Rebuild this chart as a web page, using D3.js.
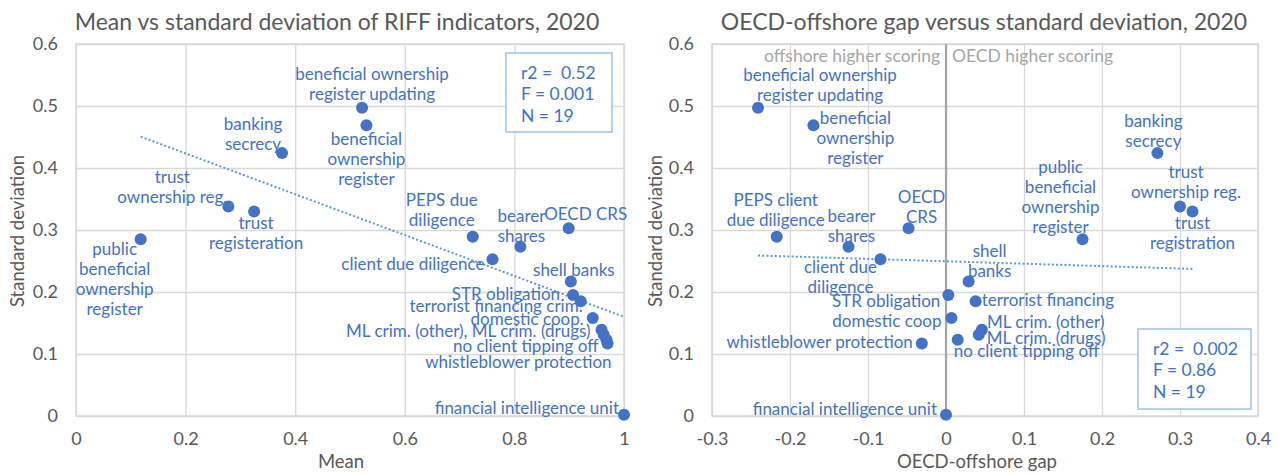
<!DOCTYPE html>
<html>
<head>
<meta charset="utf-8">
<script src="https://cdn.jsdelivr.net/npm/d3@7"></script>
<style>
  html, body { margin: 0; padding: 0; background: #fff; }
  svg { display: block; font-family: Lato, "Open Sans", sans-serif; }
  text { white-space: pre; }
</style>
</head>
<body>
<svg id="chart" width="1279" height="475"></svg>
<script>
// ---------- DATA ----------
const indicators = [
  "public beneficial ownership register", "trust ownership reg.", "trust registration",
  "banking secrecy", "beneficial ownership register updating", "beneficial ownership register",
  "PEPS due diligence", "bearer shares", "OECD CRS", "client due diligence", "shell banks",
  "STR obligation", "terrorist financing", "domestic coop", "ML crim. (other)", "ML crim. (drugs)",
  "no client tipping off", "whistleblower protection", "financial intelligence unit"
];
const means = [0.118, 0.278, 0.325, 0.376, 0.522, 0.530, 0.724, 0.811, 0.899, 0.760, 0.903,
               0.907, 0.921, 0.943, 0.959, 0.963, 0.968, 0.970, 1.0];
const sds   = [0.285, 0.338, 0.330, 0.424, 0.497, 0.469, 0.289, 0.273, 0.303, 0.253, 0.217,
               0.195, 0.185, 0.158, 0.139, 0.131, 0.123, 0.117, 0.002];
const gaps  = [0.175, 0.300, 0.316, 0.271, -0.241, -0.170, -0.217, -0.125, -0.048, -0.084, 0.029,
               0.003, 0.038, 0.007, 0.046, 0.042, 0.015, -0.031, 0.0];

const leftLabels = [
  "public\nbeneficial\nownership\nregister", "trust\nownership reg.", "trust\nregisteration",
  "banking\nsecrecy", "beneficial ownership\nregister updating", "beneficial\nownership\nregister",
  "PEPS due\ndiligence", "bearer\nshares", "OECD CRS", "client due diligence", "shell banks",
  "STR obligation", "terrorist financing crim.", "domestic coop.", "ML crim. (other), ML crim. (drugs)", null,
  "no client tipping off", "whistleblower protection", "financial intelligence unit"
];
const rightLabels = [
  "public\nbeneficial\nownership\nregister", "trust\nownership reg.", "trust\nregistration",
  "banking\nsecrecy", "beneficial ownership\nregister updating", "beneficial\nownership\nregister",
  "PEPS client\ndue diligence", "bearer\nshares", "OECD\nCRS", "client due\ndiligence", "shell\nbanks",
  "STR obligation", "terrorist financing", "domestic coop", "ML crim. (other)", "ML crim. (drugs)",
  "no client tipping off", "whistleblower protection", "financial intelligence unit"
];

const xTicksLeft  = [0, 0.2, 0.4, 0.6, 0.8, 1];
const xTicksRight = [-0.3, -0.2, -0.1, 0, 0.1, 0.2, 0.3, 0.4];
const yTicks      = [0, 0.1, 0.2, 0.3, 0.4, 0.5, 0.6];

const leftTitle  = "Mean vs standard deviation of RIFF indicators, 2020";
const rightTitle = "OECD-offshore gap versus standard deviation, 2020";
const leftXTitle = "Mean";
const rightXTitle = "OECD-offshore gap";
const yTitle = "Standard deviation";
const leftStats  = ["r2 =  0.52", "F = 0.001", "N = 19"];
const rightStats = ["r2 =  0.002", "F = 0.86", "N = 19"];
const sideLabels = ["offshore higher scoring", "OECD higher scoring"];

// ---------- LAYOUT (label offsets from the dot, px) ----------
const leftLayout = [
  [-26, 9, "middle"], [-56, -30, "middle"], [2, 11, "middle"], [-29, -30, "middle"],
  [10, -35, "middle"], [0, 13, "middle"], [-31, -38, "middle"], [1, -32, "middle"],
  [17, -15, "middle"], [-8, 4, "end"], [3, -12, "middle"], [-13, -2, "end"],
  [2, 4, "end"], [-9, 0, "end"], [-11, 0, "end"], null,
  [-8, 5, "end"], [4, 18, "end"], [-5, -8, "end"]
];
const rightLayout = [
  [-22, -73, "middle"], [6, -35, "middle"], [0, 11, "middle"], [-4, -33, "middle"],
  [62, -34, "middle"], [42, -8, "middle"], [-1, -38, "middle"], [3, -32, "middle"],
  [13, -32, "middle"], [-40, 7, "middle"], [21, -31, "middle"], [-8, 5, "end"],
  [6, -2, "start"], [-10, 2, "end"], [5, -9, "start"], [8, 2, "start"],
  [-4, 10, "start"], [-9, -2, "end"], [-9, -7, "end"]
];

const BLUE = "#4472C4", GREY = "#595959", GRID = "#d9d9d9";
const svg = d3.select("#chart");

function regression(xs, ys) {
  const mx = d3.mean(xs), my = d3.mean(ys);
  let sxy = 0, sxx = 0;
  xs.forEach((x, i) => { sxy += (x - mx) * (ys[i] - my); sxx += (x - mx) ** 2; });
  const b = sxy / sxx;
  return x => my + b * (x - mx);
}

function panel(opt) {
  const x = d3.scaleLinear().domain(opt.xDomain).range([opt.left, opt.right]);
  const y = d3.scaleLinear().domain([0, 0.6]).range([416, 44]);
  const g = svg.append("g");
  const fmt = d => String(+d.toFixed(1));

  // grid
  g.append("g").attr("transform", `translate(0,416)`)
    .call(d3.axisBottom(x).tickValues(opt.xTicks).tickSize(-(416 - 44)).tickFormat(""))
    .call(s => s.select(".domain").remove())
    .call(s => s.selectAll("line").attr("stroke", GRID).attr("stroke-width", 1.3));
  g.append("g").attr("transform", `translate(${opt.left},0)`)
    .call(d3.axisLeft(y).tickValues(yTicks).tickSize(-(opt.right - opt.left)).tickFormat(""))
    .call(s => s.select(".domain").remove())
    .call(s => s.selectAll("line").attr("stroke", GRID).attr("stroke-width", 1.3));
  g.append("rect").attr("x", opt.left).attr("y", 44)
    .attr("width", opt.right - opt.left).attr("height", 416 - 44)
    .attr("fill", "none").attr("stroke", GRID).attr("stroke-width", 1.5);

  // tick labels
  g.append("g").attr("transform", `translate(0,416)`)
    .call(d3.axisBottom(x).tickValues(opt.xTicks).tickSize(0).tickPadding(16).tickFormat(fmt))
    .call(s => s.select(".domain").remove())
    .call(s => s.selectAll("text").attr("fill", GREY).style("font-size", "18px").style("font-family", "Lato"));
  g.append("g").attr("transform", `translate(${opt.left},0)`)
    .call(d3.axisLeft(y).tickValues(yTicks).tickSize(0).tickPadding(18).tickFormat(fmt))
    .call(s => s.select(".domain").remove())
    .call(s => s.selectAll("text").attr("fill", GREY).style("font-size", "18px").style("font-family", "Lato"));

  // titles
  g.append("text").attr("x", opt.titleX).attr("y", 30).attr("text-anchor", "middle")
    .attr("fill", GREY).style("font-size", "23px").text(opt.title);
  g.append("text").attr("x", opt.xTitleX).attr("y", 468).attr("text-anchor", "middle")
    .attr("fill", GREY).style("font-size", "18.5px").text(opt.xTitle);
  g.append("text").attr("transform", `translate(${opt.yTitleX},231) rotate(-90)`)
    .attr("text-anchor", "middle").attr("dominant-baseline", "central")
    .attr("fill", GREY).style("font-size", "18.5px").text(yTitle);

  if (opt.zeroLine) {
    g.append("line").attr("x1", x(0)).attr("x2", x(0)).attr("y1", 44).attr("y2", 416)
      .attr("stroke", "#a6a6a6").attr("stroke-width", 2.2);
    g.append("text").attr("x", x(0) - 6).attr("y", 55).attr("text-anchor", "end")
      .attr("dominant-baseline", "central").attr("fill", "#a6a6a6").style("font-size", "17.5px").text(sideLabels[0]);
    g.append("text").attr("x", x(0) + 6).attr("y", 55).attr("text-anchor", "start")
      .attr("dominant-baseline", "central").attr("fill", "#a6a6a6").style("font-size", "17.5px").text(sideLabels[1]);
  }

  // trendline
  const f = regression(opt.xs, sds);
  const [x0, x1] = d3.extent(opt.xs);
  g.append("line").attr("x1", x(x0)).attr("y1", y(f(x0))).attr("x2", x(x1)).attr("y2", y(f(x1)))
    .attr("stroke", "#5B9BD5").attr("stroke-width", 2).attr("stroke-dasharray", "2,2.2");

  // points
  g.append("g").selectAll("circle").data(opt.xs).join("circle")
    .attr("cx", d => x(d)).attr("cy", (d, i) => y(sds[i])).attr("r", 6).attr("fill", BLUE);

  // labels
  const lg = g.append("g").attr("fill", BLUE).style("font-size", "17px");
  opt.labels.forEach((lab, i) => {
    if (!lab) return;
    const [dx, dy, anchor] = opt.layout[i];
    const t = lg.append("text").attr("text-anchor", anchor).attr("dominant-baseline", "central");
    lab.split("\n").forEach((line, k) => {
      t.append("tspan").attr("x", x(opt.xs[i]) + dx).attr("y", y(sds[i]) + dy + k * 20).text(line);
    });
  });

  // stats box
  const b = opt.box;
  g.append("rect").attr("x", b[0]).attr("y", b[1]).attr("width", b[2]).attr("height", b[3])
    .attr("fill", "#fff").attr("stroke", "#9DC3E6").attr("stroke-width", 1.5);
  opt.stats.forEach((s, k) => {
    g.append("text").attr("x", b[0] + 15).attr("y", b[1] + 19 + k * 21.5)
      .attr("dominant-baseline", "central").attr("fill", BLUE).style("font-size", "17.5px").text(s);
  });
}

panel({
  left: 76, right: 624, xDomain: [0, 1], xTicks: xTicksLeft, xs: means,
  title: leftTitle, titleX: 337, xTitle: leftXTitle, xTitleX: 341, yTitleX: 17,
  labels: leftLabels, layout: leftLayout, stats: leftStats, box: [506, 53, 106, 79]
});
panel({
  left: 712, right: 1258, xDomain: [-0.3, 0.4], xTicks: xTicksRight, xs: gaps,
  title: rightTitle, titleX: 984, xTitle: rightXTitle, xTitleX: 977, yTitleX: 655,
  labels: rightLabels, layout: rightLayout, stats: rightStats, box: [1138, 329, 113, 80], zeroLine: true
});
</script>
</body>
</html>
